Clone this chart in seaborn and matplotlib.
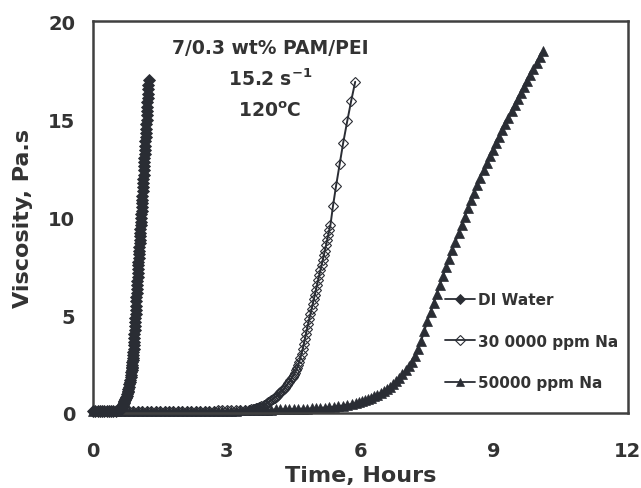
import matplotlib
matplotlib.use("Agg")
import matplotlib.pyplot as plt
import seaborn as sns

# ---------------- data ----------------
di_time = [0.00, 0.05, 0.10, 0.15, 0.20, 0.25, 0.30, 0.35, 0.40, 0.45, 0.50, 0.55,
           0.60, 0.61, 0.62, 0.63, 0.64, 0.65, 0.66, 0.67, 0.68, 0.69, 0.70, 0.71,
           0.72, 0.73, 0.74, 0.75, 0.76, 0.77, 0.78, 0.79, 0.80, 0.81, 0.82, 0.83,
           0.84, 0.85, 0.855, 0.860, 0.865, 0.870, 0.875, 0.880, 0.885, 0.890, 0.895,
           0.900, 0.905, 0.910, 0.915, 0.920, 0.925, 0.930, 0.935, 0.940, 0.945,
           0.950, 0.955, 0.960, 0.965, 0.970, 0.975, 0.980, 0.985, 0.990, 0.995,
           1.000, 1.005, 1.010, 1.015, 1.020, 1.025, 1.030, 1.035, 1.040, 1.045,
           1.050, 1.055, 1.060, 1.065, 1.070, 1.075, 1.080, 1.085, 1.090, 1.095,
           1.100, 1.105, 1.110, 1.115, 1.120, 1.125, 1.130, 1.135, 1.140, 1.145,
           1.150, 1.155, 1.160, 1.165, 1.170, 1.175, 1.180, 1.185, 1.190, 1.195,
           1.200, 1.205, 1.210, 1.215, 1.220, 1.225, 1.230, 1.235, 1.240]
di_visc = [0.10, 0.10, 0.10, 0.10, 0.10, 0.10, 0.10, 0.10, 0.10, 0.11, 0.12, 0.13,
           0.15, 0.18, 0.22, 0.26, 0.30, 0.35, 0.40, 0.45, 0.50, 0.55, 0.60, 0.66,
           0.71, 0.77, 0.83, 0.89, 0.97, 1.05, 1.14, 1.24, 1.35, 1.46, 1.58, 1.70,
           1.82, 1.95, 2.08, 2.20, 2.28, 2.37, 2.47, 2.58, 2.70, 2.83, 2.97,
           3.12, 3.28, 3.45, 3.63, 3.82, 4.02, 4.23, 4.44, 4.65, 4.86,
           5.07, 5.28, 5.49, 5.70, 5.91, 6.12, 6.33, 6.54, 6.75, 6.96,
           7.17, 7.36, 7.55, 7.73, 7.92, 8.10, 8.29, 8.48, 8.66, 8.85,
           9.04, 9.22, 9.41, 9.60, 9.78, 9.97, 10.16, 10.34, 10.53, 10.71,
           10.90, 11.11, 11.33, 11.54, 11.75, 11.96, 12.17, 12.39, 12.60, 12.81,
           13.02, 13.24, 13.45, 13.66, 13.87, 14.09, 14.30, 14.52, 14.75, 14.98,
           15.20, 15.42, 15.65, 15.88, 16.10, 16.32, 16.55, 16.78, 17.00]

na30_time = [0.0, 0.1, 0.2, 0.3, 0.4, 0.5, 0.6, 0.7, 0.8, 0.9, 1.0, 1.1, 1.2, 1.3,
             1.4, 1.5, 1.6, 1.7, 1.8, 1.9, 2.0, 2.1, 2.2, 2.3, 2.4, 2.5, 2.6, 2.7,
             2.8, 2.9, 3.0, 3.1, 3.2, 3.3, 3.4,
             3.500, 3.525, 3.550, 3.575, 3.600, 3.625, 3.650, 3.675, 3.700, 3.725,
             3.750, 3.775, 3.800, 3.825, 3.850, 3.875, 3.900, 3.925, 3.950, 3.975,
             4.000, 4.025, 4.050, 4.075, 4.100, 4.125, 4.150, 4.175, 4.200, 4.225,
             4.250, 4.275, 4.300, 4.325, 4.350, 4.375, 4.400, 4.425, 4.450, 4.475,
             4.500, 4.525, 4.550, 4.575, 4.600, 4.625, 4.650, 4.675, 4.700, 4.725,
             4.750, 4.775, 4.800, 4.825, 4.850, 4.875, 4.900, 4.925, 4.950, 4.975,
             5.000, 5.025, 5.050, 5.075, 5.100, 5.125, 5.150, 5.175, 5.200, 5.225,
             5.250, 5.275, 5.300, 5.325,
             5.38, 5.45, 5.53, 5.61, 5.70, 5.79, 5.88]
na30_visc = [0.10, 0.10, 0.10, 0.10, 0.10, 0.10, 0.10, 0.10, 0.10, 0.10, 0.10, 0.10,
             0.10, 0.10, 0.10, 0.10, 0.10, 0.10, 0.10, 0.10, 0.10, 0.11, 0.11, 0.11,
             0.11, 0.12, 0.12, 0.12, 0.13, 0.13, 0.13, 0.14, 0.14, 0.15, 0.15,
             0.16, 0.17, 0.18, 0.19, 0.20, 0.21, 0.23, 0.25, 0.27, 0.29,
             0.32, 0.34, 0.37, 0.40, 0.43, 0.46, 0.50, 0.54, 0.58, 0.62,
             0.66, 0.70, 0.75, 0.79, 0.84, 0.89, 0.94, 1.00, 1.05, 1.11,
             1.17, 1.23, 1.30, 1.37, 1.44, 1.52, 1.60, 1.68, 1.77, 1.86,
             1.95, 2.06, 2.18, 2.31, 2.45, 2.63, 2.82, 3.03, 3.25, 3.51,
             3.77, 4.04, 4.30, 4.55, 4.80, 5.05, 5.30, 5.55, 5.80, 6.05,
             6.30, 6.55, 6.80, 7.05, 7.30, 7.55, 7.80, 8.05, 8.30, 8.56,
             8.82, 9.08, 9.35, 9.62,
             10.56, 11.60, 12.70, 13.80, 14.90, 15.95, 16.92]

na50_time = [0.0, 0.1, 0.2, 0.3, 0.4, 0.5, 0.6, 0.7, 0.8, 0.9, 1.0, 1.1, 1.2, 1.3,
             1.4, 1.5, 1.6, 1.7, 1.8, 1.9, 2.0, 2.1, 2.2, 2.3, 2.4, 2.5, 2.6, 2.7,
             2.8, 2.9, 3.0, 3.1, 3.2, 3.3, 3.4, 3.5, 3.6, 3.7, 3.8, 3.9, 4.0, 4.1,
             4.2, 4.3, 4.4, 4.5, 4.6, 4.7, 4.8, 4.9, 5.0, 5.1, 5.2, 5.3, 5.4, 5.5,
             5.6, 5.7, 5.8, 5.9,
             5.96, 6.03, 6.10, 6.17, 6.24, 6.31, 6.38, 6.45, 6.52, 6.59, 6.66, 6.73,
             6.80, 6.87, 6.94, 7.01, 7.08, 7.15, 7.22, 7.29, 7.36, 7.43, 7.50, 7.57,
             7.64, 7.71, 7.78, 7.85, 7.92, 7.99, 8.06, 8.13, 8.20, 8.27, 8.34, 8.41,
             8.48, 8.55, 8.62, 8.69, 8.76, 8.83, 8.90, 8.97, 9.04, 9.11, 9.18, 9.25,
             9.32, 9.39, 9.46, 9.53, 9.60, 9.67, 9.74, 9.81, 9.88, 9.95, 10.02, 10.09]
na50_visc = [0.10, 0.10, 0.10, 0.10, 0.10, 0.10, 0.10, 0.10, 0.10, 0.10, 0.10, 0.10,
             0.10, 0.10, 0.10, 0.10, 0.10, 0.10, 0.10, 0.10, 0.10, 0.10, 0.10, 0.10,
             0.10, 0.10, 0.10, 0.10, 0.10, 0.10, 0.10, 0.12, 0.12, 0.13, 0.13, 0.14,
             0.14, 0.15, 0.16, 0.16, 0.17, 0.18, 0.18, 0.19, 0.20, 0.20, 0.21, 0.22,
             0.22, 0.23, 0.24, 0.26, 0.28, 0.30, 0.32, 0.35, 0.38, 0.42, 0.46, 0.50,
             0.55, 0.60, 0.66, 0.72, 0.79, 0.86, 0.94, 1.03, 1.12, 1.22, 1.34, 1.47,
             1.62, 1.79, 1.99, 2.20, 2.40, 2.62, 2.90, 3.25, 3.68, 4.18, 4.70, 5.18,
             5.64, 6.10, 6.55, 6.99, 7.44, 7.88, 8.32, 8.75, 9.18, 9.61, 10.03, 10.45,
             10.86, 11.26, 11.65, 12.03, 12.40, 12.76, 13.11, 13.45, 13.79, 14.12, 14.45, 14.77,
             15.09, 15.41, 15.72, 16.03, 16.34, 16.65, 16.96, 17.27, 17.58, 17.89, 18.20, 18.50]

series_labels = ["DI Water", "30 0000 ppm Na", "50000 ppm Na"]
x_ticks = [0, 3, 6, 9, 12]
y_ticks = [0, 5, 10, 15, 20]
annotation_lines = ["7/0.3 wt% PAM/PEI", r"15.2 s$^{\mathregular{-1}}$", r"120$^{\mathregular{o}}$C"]

# ---------------- style ----------------
sns.set_style("white")
plt.rcParams["font.family"] = ["DejaVu Sans"]
plt.rcParams["font.weight"] = "bold"
plt.rcParams["mathtext.fontset"] = "custom"
plt.rcParams["mathtext.rm"] = "DejaVu Sans:bold"
plt.rcParams["mathtext.it"] = "DejaVu Sans:bold"
plt.rcParams["mathtext.bf"] = "DejaVu Sans:bold"
plt.rcParams["mathtext.default"] = "regular"

ink = "#2a2d34"
spine_col = "#404040"
text_col = "#333333"

fig = plt.figure(figsize=(6.41, 4.89), dpi=100)
ax = fig.add_axes([0.1455, 0.1534, 0.834, 0.8006])

sns.lineplot(x=di_time, y=di_visc, ax=ax, sort=False, estimator=None,
             color=ink, linewidth=1.2, marker="D", markersize=6.0,
             markerfacecolor=ink, markeredgecolor=ink, markeredgewidth=0.6,
             label=series_labels[0], clip_on=False, zorder=3)
sns.lineplot(x=na30_time, y=na30_visc, ax=ax, sort=False, estimator=None,
             color=ink, linewidth=1.4, marker="D", markersize=5.0,
             markerfacecolor="none", markeredgecolor=ink, markeredgewidth=0.8,
             label=series_labels[1], clip_on=False, zorder=2)
sns.lineplot(x=na50_time, y=na50_visc, ax=ax, sort=False, estimator=None,
             color=ink, linewidth=1.4, marker="^", markersize=6.8,
             markerfacecolor=ink, markeredgecolor=ink, markeredgewidth=0.5,
             label=series_labels[2], clip_on=False, zorder=2)

ax.set_xlim(0, 12)
ax.set_ylim(0, 20)
ax.set_xticks(x_ticks)
ax.set_yticks(y_ticks)
ax.tick_params(axis="both", direction="in", width=1.3, color=spine_col,
               labelsize=14, labelcolor=text_col)
ax.tick_params(axis="x", pad=20, length=5)
ax.tick_params(axis="y", pad=13, length=8)
for s in ax.spines.values():
    s.set_visible(True)
    s.set_linewidth(1.8)
    s.set_color(spine_col)

ax.set_xlabel("Time, Hours", fontsize=16, fontweight="bold", color=text_col, labelpad=4)
ax.set_ylabel("Viscosity, Pa.s", fontsize=16, fontweight="bold", color=text_col, labelpad=11)

annot_y = [18.41, 16.78, 15.16]
for txt, yy in zip(annotation_lines, annot_y):
    ax.text(3.97, yy, txt, ha="center", va="baseline",
            fontsize=13.5, fontweight="bold", color=text_col)

leg = ax.legend(loc="upper left", bbox_to_anchor=(0.658, 0.309), frameon=False,
                fontsize=11, handlelength=1.96, handletextpad=0.2,
                labelspacing=1.75, borderpad=0, borderaxespad=0)
for h, ms in zip(leg.legend_handles, [4.6, 4.6, 5.5]):
    h.set_markersize(ms)
    h.set_linewidth(1.3)
for t in leg.get_texts():
    t.set_color(text_col)

fig.savefig("out.png", dpi=100)
